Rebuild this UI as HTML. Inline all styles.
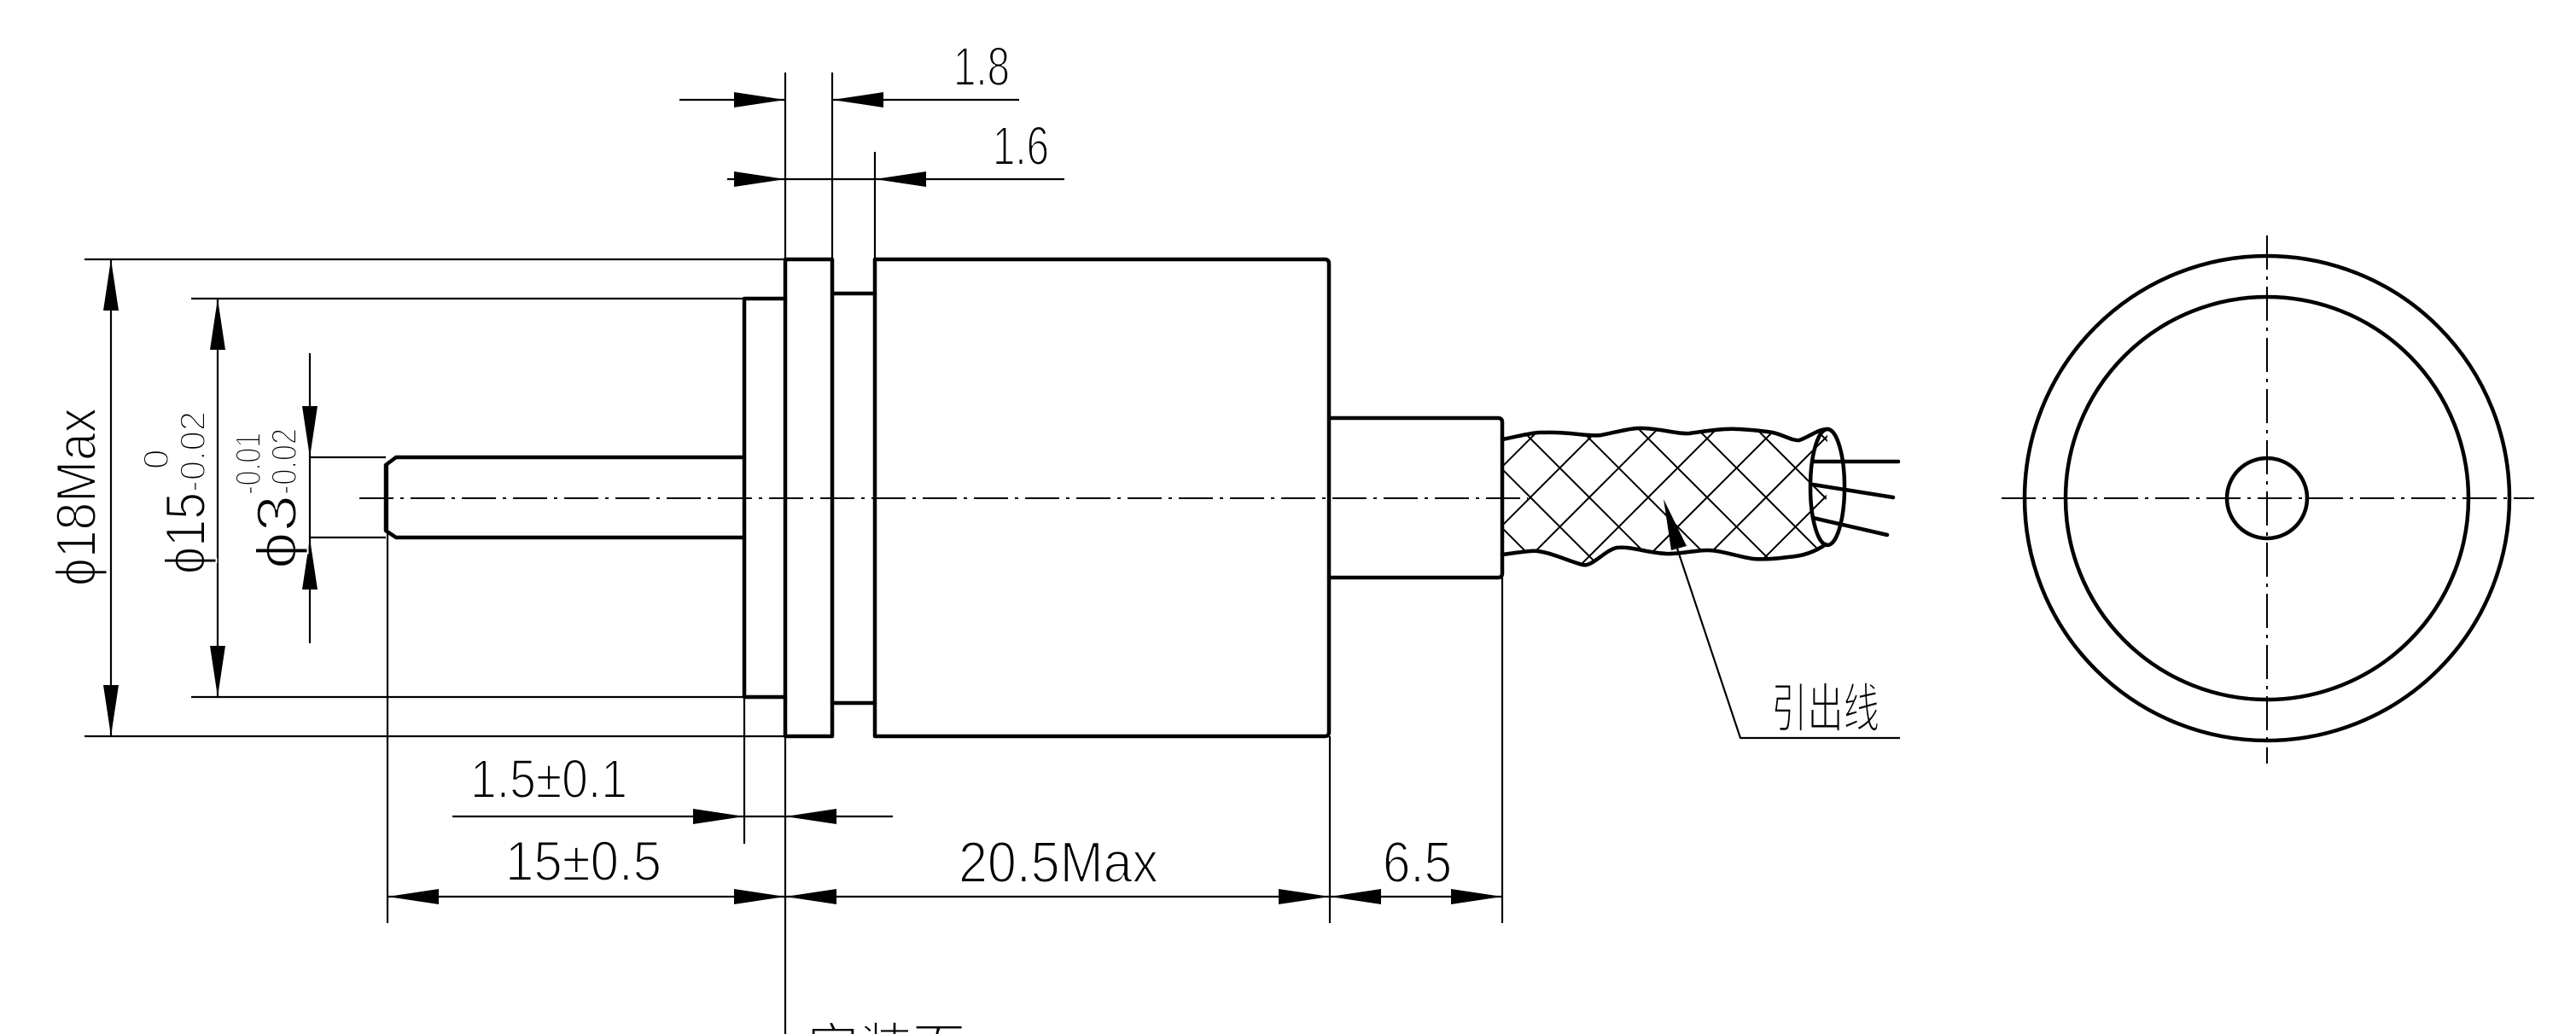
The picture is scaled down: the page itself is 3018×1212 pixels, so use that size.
<!DOCTYPE html>
<html><head><meta charset="utf-8"><style>
html,body{margin:0;padding:0;background:#fff;}
svg{display:block;}
text{font-family:"Liberation Sans","Noto Sans CJK SC",sans-serif;fill:#000;stroke:#fff;stroke-width:2px;paint-order:fill;}
</style></head><body>
<svg width="3018" height="1212" viewBox="0 0 3018 1212" xmlns="http://www.w3.org/2000/svg">
<defs>
<clipPath id="braid"><path d="M1760,515 C1785,510 1800,506 1809,507 C1840,506 1860,512 1876,510 C1900,505 1915,501 1925,502 C1950,503 1965,509 1979,508 C2000,505 2020,502 2037,503 C2055,504 2065,505 2077,507 C2090,510 2100,517 2108,516 C2120,512 2130,503 2141,503 L2139,638 C2125,648 2110,652 2095,653 C2080,655 2065,656 2054,655 C2035,652 2015,645 2001,645 C1985,645 1965,650 1952,649 C1930,648 1910,640 1894,642 C1880,645 1865,665 1854,662 C1835,657 1810,644 1793,646 C1780,647 1770,649 1760,650 Z"/></clipPath>
</defs>
<g fill="none" stroke="#000" stroke-linecap="round" stroke-linejoin="round">
<g stroke-width="4.5">
<rect x="920" y="304" width="55" height="559"/>
<line x1="975" y1="344" x2="1025" y2="344"/>
<line x1="975" y1="824" x2="1025" y2="824"/>
<path d="M1025,304 L1552,304 Q1557,304 1557,309 L1557,858 Q1557,863 1552,863 L1025,863 Z"/>
<path d="M920,350 L872,350 L872,817 L920,817"/>
<path d="M872,536 L464,536 L452,545 L452,622 L464,630 L872,630"/>
<path d="M1557,490 L1755,490 Q1760,490 1760,495 L1760,672 Q1760,677 1755,677 L1557,677"/>
<path d="M1760,515 C1785,510 1800,506 1809,507 C1840,506 1860,512 1876,510 C1900,505 1915,501 1925,502 C1950,503 1965,509 1979,508 C2000,505 2020,502 2037,503 C2055,504 2065,505 2077,507 C2090,510 2100,517 2108,516 C2120,512 2130,503 2141,503"/>
<path d="M1760,650 C1770,649 1780,647 1793,646 C1810,644 1835,657 1854,662 C1865,665 1880,645 1894,642 C1910,640 1930,648 1952,649 C1965,650 1985,645 2001,645 C2015,645 2035,652 2054,655 C2065,656 2080,655 2095,653 C2110,652 2125,648 2139,638"/>
<ellipse cx="2141" cy="571" rx="20" ry="68"/>
<line x1="2124" y1="541" x2="2224" y2="541"/>
<line x1="2124" y1="568" x2="2218" y2="583"/>
<line x1="2124" y1="607" x2="2211" y2="627"/>
<circle cx="2656" cy="584" r="284"/>
<circle cx="2656" cy="584" r="236"/>
<circle cx="2656" cy="584" r="47"/>
</g>
<g stroke-width="2" clip-path="url(#braid)">
<path d="M1517,583 l-150,-150 M1517,583 l150,150 M1586,583 l-150,-150 M1586,583 l150,150 M1655,583 l-150,-150 M1655,583 l150,150 M1724,583 l-150,-150 M1724,583 l150,150 M1793,583 l-150,-150 M1793,583 l150,150 M1862,583 l-150,-150 M1862,583 l150,150 M1931,583 l-150,-150 M1931,583 l150,150 M2000,583 l-150,-150 M2000,583 l150,150 M2069,583 l-150,-150 M2069,583 l150,150 M2138,583 l-150,-150 M2138,583 l150,150 M2207,583 l-150,-150 M2207,583 l150,150 M2276,583 l-150,-150 M2276,583 l150,150 M2345,583 l-150,-150 M2345,583 l150,150"/>
<path d="M1517,583 l150,-150 M1517,583 l-150,150 M1586,583 l150,-150 M1586,583 l-150,150 M1655,583 l150,-150 M1655,583 l-150,150 M1724,583 l150,-150 M1724,583 l-150,150 M1793,583 l150,-150 M1793,583 l-150,150 M1862,583 l150,-150 M1862,583 l-150,150 M1931,583 l150,-150 M1931,583 l-150,150 M2000,583 l150,-150 M2000,583 l-150,150 M2069,583 l150,-150 M2069,583 l-150,150 M2138,583 l150,-150 M2138,583 l-150,150 M2207,583 l150,-150 M2207,583 l-150,150 M2276,583 l150,-150 M2276,583 l-150,150"/>
</g>
<g stroke-width="2" stroke-dasharray="40,8,4,8" stroke-linecap="butt">
<line x1="421" y1="584" x2="1790" y2="584"/>
<line x1="2345" y1="584" x2="2969" y2="584"/>
<line x1="2656" y1="276" x2="2656" y2="895"/>
</g>
<g stroke-width="2.2" stroke-linecap="butt">
<line x1="920" y1="85" x2="920" y2="1212"/>
<line x1="975" y1="85" x2="975" y2="304"/>
<line x1="1025" y1="178" x2="1025" y2="304"/>
<line x1="796" y1="117" x2="920" y2="117"/>
<line x1="975" y1="117" x2="1194" y2="117"/>
<line x1="852" y1="210" x2="1247" y2="210"/>
<line x1="99" y1="304" x2="920" y2="304"/>
<line x1="99" y1="863" x2="920" y2="863"/>
<line x1="224" y1="350" x2="872" y2="350"/>
<line x1="224" y1="817" x2="872" y2="817"/>
<line x1="362" y1="536" x2="452" y2="536"/>
<line x1="362" y1="630" x2="452" y2="630"/>
<line x1="130" y1="304" x2="130" y2="863"/>
<line x1="255" y1="350" x2="255" y2="817"/>
<line x1="363" y1="414" x2="363" y2="754"/>
<line x1="454" y1="545" x2="454" y2="1082"/>
<line x1="872" y1="817" x2="872" y2="989"/>
<line x1="1558" y1="863" x2="1558" y2="1082"/>
<line x1="1760" y1="677" x2="1760" y2="1082"/>
<line x1="530" y1="957" x2="1046" y2="957"/>
<line x1="454" y1="1051" x2="1760" y2="1051"/>
<path d="M1965,643 L2039,865 L2226,865"/>
</g>
</g>
<g fill="#000" stroke="none">
<polygon points="920,117 860,108 860,126"/>
<polygon points="975,117 1035,108 1035,126"/>
<polygon points="920,210 860,201 860,219"/>
<polygon points="1025,210 1085,201 1085,219"/>
<polygon points="130,304 121,364 139,364"/>
<polygon points="130,863 121,803 139,803"/>
<polygon points="255,350 246,410 264,410"/>
<polygon points="255,817 246,757 264,757"/>
<polygon points="363,536 354,476 372,476"/>
<polygon points="363,631 354,691 372,691"/>
<polygon points="872,957 812,948 812,966"/>
<polygon points="920,957 980,948 980,966"/>
<polygon points="454,1051 514,1042 514,1060"/>
<polygon points="920,1051 860,1042 860,1060"/>
<polygon points="920,1051 980,1042 980,1060"/>
<polygon points="1558,1051 1498,1042 1498,1060"/>
<polygon points="1558,1051 1618,1042 1618,1060"/>
<polygon points="1760,1051 1700,1042 1700,1060"/>
<polygon points="1949,585 1958,645 1976,640"/>
</g>
<text x="1117" y="100" font-size="64" textLength="66" lengthAdjust="spacingAndGlyphs">1.8</text>
<text x="1163" y="193" font-size="64" textLength="66" lengthAdjust="spacingAndGlyphs">1.6</text>
<text x="551" y="935" font-size="64" textLength="184" lengthAdjust="spacingAndGlyphs">1.5±0.1</text>
<text x="592" y="1032" font-size="66" textLength="183" lengthAdjust="spacingAndGlyphs">15±0.5</text>
<text x="1123" y="1034" font-size="68" textLength="234" lengthAdjust="spacingAndGlyphs">20.5Max</text>
<text x="1620" y="1034" font-size="68" textLength="81" lengthAdjust="spacingAndGlyphs">6.5</text>
<text x="2075" y="852" font-size="62" textLength="127" lengthAdjust="spacingAndGlyphs">引出线</text>
<text x="945" y="1250" font-size="62">安装面</text>
<text transform="translate(112,687) rotate(-90)" font-size="66" textLength="209" lengthAdjust="spacingAndGlyphs">ϕ18Max</text>
<text transform="translate(240,673) rotate(-90)" font-size="66" textLength="96" lengthAdjust="spacingAndGlyphs">ϕ15</text>
<text transform="translate(240,577) rotate(-90)" font-size="42" textLength="95" lengthAdjust="spacingAndGlyphs">-0.02</text>
<text transform="translate(197,550) rotate(-90)" font-size="42">0</text>
<text transform="translate(347,667) rotate(-90)" font-size="66" textLength="87" lengthAdjust="spacingAndGlyphs">ϕ3</text>
<text transform="translate(305,580) rotate(-90)" font-size="42" textLength="73" lengthAdjust="spacingAndGlyphs">-0.01</text>
<text transform="translate(347,580) rotate(-90)" font-size="42" textLength="78" lengthAdjust="spacingAndGlyphs">-0.02</text>
</svg>
</body></html>
